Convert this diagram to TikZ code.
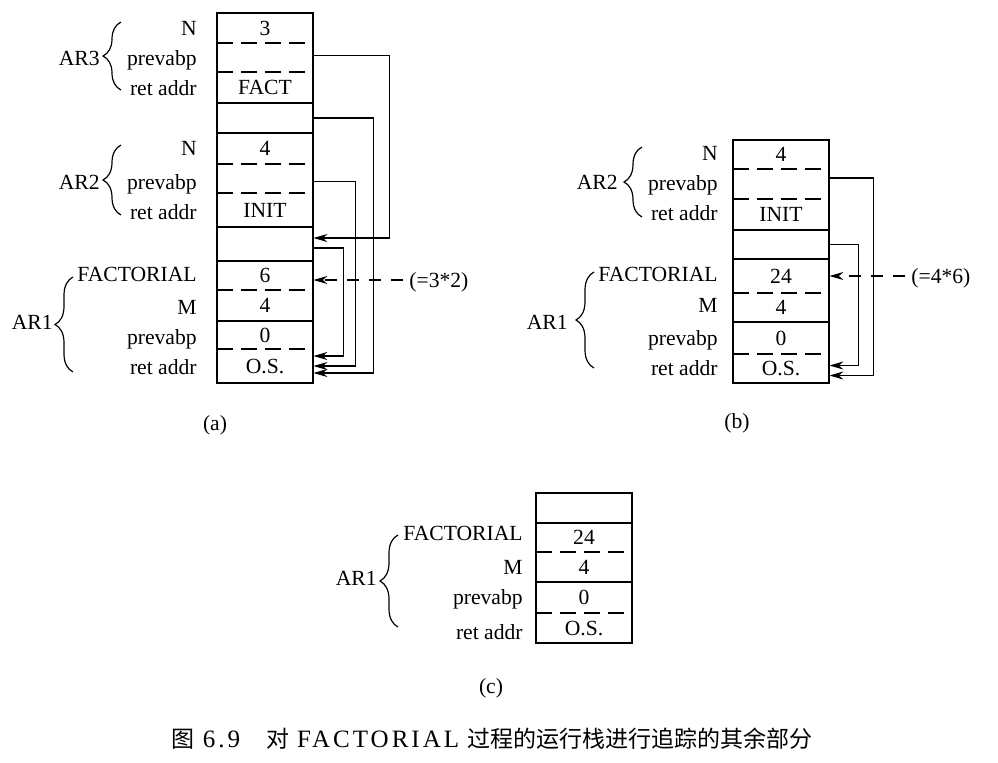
\documentclass[tikz,border=0pt]{standalone}
\usepackage{fontspec}
\setmainfont{Liberation Serif}
\newfontfamily\cjk{Noto Sans CJK SC}
\newfontfamily\capfont{Liberation Serif}[LetterSpace=12]
\usetikzlibrary{calc,arrows.meta,decorations.pathreplacing}

\begin{document}
\begin{tikzpicture}[x=0.5pt,y=-0.5pt,font=\fontsize{10.8}{12}\selectfont,
	cell/.style={minimum width=48pt,inner sep=0pt,text height=7pt,text depth=0pt},
	lbl/.style={anchor=east,inner sep=0pt,text height=7pt,text depth=0pt},
	sep/.style={line width=0.6pt},
	dsep/.style={line width=0.6pt,dash pattern=on 8pt off 4pt},
	frame/.style={line width=1.2pt},
	ptr/.style={line width=0.6pt,-{Stealth[length=7pt,width=4pt]}},
	dptr/.style={ptr,dash pattern=on 6pt off 5pt},
	arbrace/.style={decorate,decoration={brace,amplitude=9pt},line width=0.6pt}]
	\useasboundingbox (0,0) rectangle (998,762);
	
	% (a)
	\node[lbl] (ar3) at (100,58) {AR3};
	\draw[arbrace] (121,90) -- (121,22);
	\node[lbl] (ar2) at (100,182) {AR2};
	\draw[arbrace] (121,215) -- (121,145);
	\node[lbl] (ar1) at (53,322) {AR1};
	\draw[arbrace] (73,372) -- (73,277);
	
	\node[lbl] (la1) at (197,28) {N};
	\node[lbl] (la2) at (197,58) {prevabp};
	\node[lbl] (la3) at (197,88) {ret addr};
	\node[lbl] (la5) at (197,148) {N};
	\node[lbl] (la6) at (197,182) {prevabp};
	\node[lbl] (la7) at (197,212) {ret addr};
	\node[lbl] (la9) at (197,274) {FACTORIAL};
	\node[lbl] (la10) at (197,307) {M};
	\node[lbl] (la11) at (197,337) {prevabp};
	\node[lbl] (la12) at (197,367) {ret addr};
	
	\node[cell] (a1) at (265,28) {3};
	\node[cell] (a2) at (265,57.5) {};
	\node[cell] (a3) at (265,87.5) {FACT};
	\node[cell] (a4) at (265,118) {};
	\node[cell] (a5) at (265,148.5) {4};
	\node[cell] (a6) at (265,178.5) {};
	\node[cell] (a7) at (265,210) {INIT};
	\node[cell] (a8) at (265,244) {};
	\node[cell] (a9) at (265,275.5) {6};
	\node[cell] (a10) at (265,305.5) {4};
	\node[cell] (a11) at (265,335) {0};
	\node[cell] (a12) at (265,366) {O.S.};
	
	\draw[dsep] (217,43) -- (313,43) (217,72) -- (313,72) (217,164) -- (313,164)
		(217,193) -- (313,193) (217,290) -- (313,290) (217,349) -- (313,349);
	\draw[sep] (217,103) -- (313,103) (217,133) -- (313,133) (217,227) -- (313,227)
		(217,261) -- (313,261) (217,321) -- (313,321);
	\draw[frame] (217,13) rectangle (313,383);
	
	\draw[ptr] ($(a2.east)+(0,-2)$) -- ++(76,0) |- ($(a8.east)+(0,-6)$);
	\draw[ptr] (a4.east) -- ++(60,0) |- ($(a12.east)+(0,7)$);
	\draw[ptr] ($(a6.east)+(0,3)$) -- ++(42,0) |- (a12.east);
	\draw[ptr] ($(a8.east)+(0,4)$) -- ++(30,0) |- ($(a12.east)+(0,-10)$);
	
	\node[anchor=west,inner sep=0pt,text height=7pt,text depth=0pt] (ra) at (409,280) {(=3*2)};
	\draw[dptr,shorten <=3pt] (ra.west) -- (ra.west -| a9.east);
	
	\node (capa) at (215,425) {(a)};
	
	% (b)
	\node[lbl] (br2) at (618,182) {AR2};
	\draw[arbrace] (642,217) -- (642,147);
	\node[lbl] (br1) at (568,322) {AR1};
	\draw[arbrace] (594,368) -- (594,272);
	
	\node[lbl] (lb1) at (718,153) {N};
	\node[lbl] (lb2) at (718,183) {prevabp};
	\node[lbl] (lb3) at (718,213) {ret addr};
	\node[lbl] (lb5) at (718,274) {FACTORIAL};
	\node[lbl] (lb6) at (718,305) {M};
	\node[lbl] (lb7) at (718,338) {prevabp};
	\node[lbl] (lb8) at (718,368) {ret addr};
	
	\node[cell] (b1) at (781,154.5) {4};
	\node[cell] (b2) at (781,184) {};
	\node[cell] (b3) at (781,214.5) {INIT};
	\node[cell] (b4) at (781,244.5) {};
	\node[cell] (b5) at (781,276) {24};
	\node[cell] (b6) at (781,307.5) {4};
	\node[cell] (b7) at (781,338) {0};
	\node[cell] (b8) at (781,368.5) {O.S.};
	
	\draw[dsep] (733,169) -- (829,169) (733,199) -- (829,199) (733,293) -- (829,293)
		(733,354) -- (829,354);
	\draw[sep] (733,230) -- (829,230) (733,259) -- (829,259) (733,322) -- (829,322);
	\draw[frame] (733,140) rectangle (829,383);
	
	\draw[ptr] ($(b2.east)+(0,-6)$) -- ++(44,0) |- ($(b8.east)+(0,7)$);
	\draw[ptr] (b4.east) -- ++(29,0) |- ($(b8.east)+(0,-3)$);
	
	\node[anchor=west,inner sep=0pt,text height=7pt,text depth=0pt] (rb) at (911,276) {(=4*6)};
	\draw[dptr,shorten <=3pt] (rb.west) -- (rb.west -| b5.east);
	
	\node (capb) at (737,423) {(b)};
	
	% (c)
	\node[lbl] (cr1) at (377,578) {AR1};
	\draw[arbrace] (398,627) -- (398,535);
	
	\node[lbl] (lc2) at (523,533) {FACTORIAL};
	\node[lbl] (lc3) at (523,567) {M};
	\node[lbl] (lc4) at (523,597) {prevabp};
	\node[lbl] (lc5) at (523,632) {ret addr};
	
	\node[cell] (c1) at (584,508) {};
	\node[cell] (c2) at (584,537.5) {24};
	\node[cell] (c3) at (584,567) {4};
	\node[cell] (c4) at (584,597.5) {0};
	\node[cell] (c5) at (584,628) {O.S.};
	
	\draw[dsep] (536,552) -- (632,552) (536,613) -- (632,613);
	\draw[sep] (536,523) -- (632,523) (536,582) -- (632,582);
	\draw[frame] (536,493) rectangle (632,643);
	
	\node (capc) at (491,688) {(c)};
	
	\node[font=\fontsize{11.5}{14}\selectfont] (fig) at (492,739)
		{{\cjk 图}\hspace{4pt}{\capfont\fontsize{12.5}{14}\selectfont 6.9}\hspace{13pt}{\cjk 对}\hspace{4pt}{\capfont\fontsize{12.5}{14}\selectfont FACTORIAL}\hspace{4pt}{\cjk 过程的运行栈进行追踪的其余部分}};
\end{tikzpicture}
\end{document}
